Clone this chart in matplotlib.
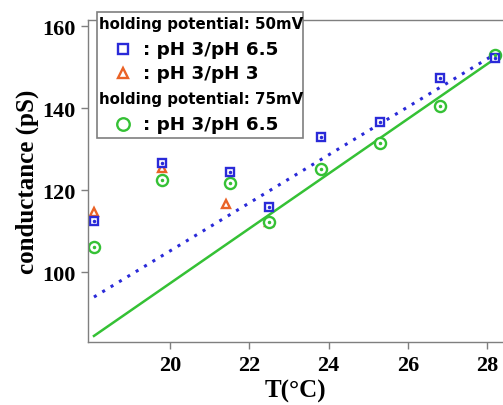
import numpy as np
import matplotlib
matplotlib.use("Agg")
import matplotlib.pyplot as plt
from matplotlib.patches import Rectangle
from matplotlib.font_manager import FontProperties

# data
t_sq = [18.08, 19.8, 21.5, 22.5, 23.8, 25.3, 26.8, 28.2]
g_sq = [112.4, 126.6, 124.4, 115.9, 132.9, 136.6, 147.3, 152.2]

t_tri = [18.08, 19.8, 21.4, 22.5]
g_tri = [114.6, 125.4, 116.6, 112.2]

t_circ = [18.08, 19.8, 21.5, 22.5, 23.8, 25.3, 26.8, 28.2]
g_circ = [106.1, 122.4, 121.7, 112.3, 125.1, 131.5, 140.5, 153.0]

# linear fits: (slope, intercept at T=18.08)
fit_50 = (5.86, 93.9)
fit_75 = (6.69, 84.4)
fit_range = [18.08, 28.2]

BLUE = "#2a2ad8"
ORANGE = "#ea6327"
GREEN = "#35c135"
GRAY = "#7f7f7f"

fig = plt.figure(figsize=(5.03, 4.06), dpi=100)
ax = fig.add_axes([0.175, 0.155, 0.825, 0.793])

tf = np.array(fit_range)
ax.plot(tf, fit_50[1] + fit_50[0] * (tf - fit_range[0]), color=BLUE,
        ls=(0, (1, 2.2)), lw=2.2)
ax.plot(tf, fit_75[1] + fit_75[0] * (tf - fit_range[0]), color=GREEN, lw=1.8)

ax.plot(t_tri, g_tri, ls="none", marker="^", ms=6, mfc="white",
        mec=ORANGE, mew=1.7)
ax.plot(t_circ, g_circ, ls="none", marker="o", ms=8, mfc="white",
        mec=GREEN, mew=1.7)
ax.plot(t_sq, g_sq, ls="none", marker="s", ms=6, mfc="white",
        mec=BLUE, mew=1.7)
# tiny centre dots
ax.plot(t_circ, g_circ, ls="none", marker="o", ms=1.5, color=GREEN)
ax.plot(t_sq, g_sq, ls="none", marker="o", ms=1.5, color=BLUE)

ax.set_xlim(17.93, 28.4)
ax.set_ylim(82.9, 161.5)
ax.set_xticks([20, 22, 24, 26, 28])
ax.set_yticks([100, 120, 140, 160])

serif = dict(family="Liberation Serif", weight="bold")
for lab in ax.get_xticklabels() + ax.get_yticklabels():
    lab.set_fontproperties(FontProperties(size=16, **serif))
ax.tick_params(direction="out", length=5, width=1, color=GRAY, pad=4)
for s in ["left", "bottom", "top"]:
    ax.spines[s].set_color(GRAY)
    ax.spines[s].set_linewidth(1)
ax.spines["right"].set_visible(False)

ax.set_xlabel("T(\u00b0C)", fontsize=18, labelpad=3, **serif)
ax.set_ylabel("conductance (pS)", fontsize=18, labelpad=2, **serif)

# legend box drawn by hand
ax.add_patch(Rectangle((0.022, 0.634), 0.496, 0.391, transform=ax.transAxes,
                       fc="white", ec=GRAY, lw=1.2, clip_on=False, zorder=5))
sans = dict(family="DejaVu Sans", weight="bold", transform=ax.transAxes,
            va="center", zorder=6)
ax.text(0.027, 0.988, "holding potential: 50mV", fontsize=10.8, **sans)
ax.text(0.027, 0.755, "holding potential: 75mV", fontsize=10.8, **sans)
ax.text(0.133, 0.910, ": pH 3/pH 6.5", fontsize=13.2, **sans)
ax.text(0.133, 0.835, ": pH 3/pH 3", fontsize=13.2, **sans)
ax.text(0.133, 0.677, ": pH 3/pH 6.5", fontsize=13.2, **sans)
kw = dict(transform=ax.transAxes, ls="none", mfc="white", mew=1.7,
          clip_on=False, zorder=6)
ax.plot([0.084], [0.910], marker="s", ms=7, mec=BLUE, **kw)
ax.plot([0.084], [0.835], marker="^", ms=7, mec=ORANGE, **kw)
ax.plot([0.084], [0.677], marker="o", ms=9, mec=GREEN, **kw)

fig.savefig("out.png", dpi=100)
